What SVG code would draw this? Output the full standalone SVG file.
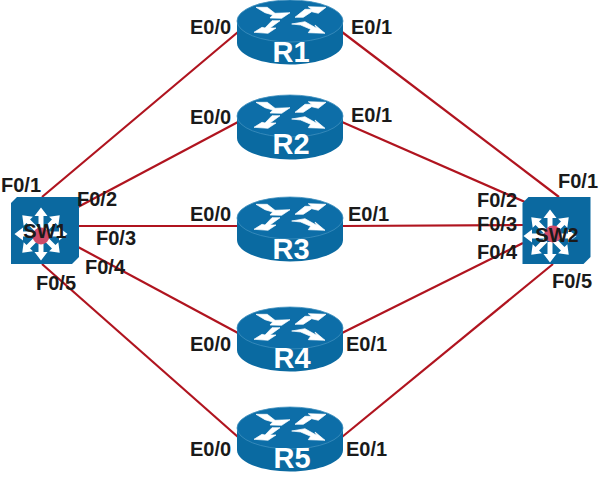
<svg xmlns="http://www.w3.org/2000/svg" width="600" height="479" viewBox="0 0 600 479">
<style>
.link{stroke:#b0141f;stroke-width:2.200;fill:none}
.port{font:bold 20px "Liberation Sans",Arial,sans-serif;fill:#1a1a1a}
.rname{font:bold 29px "Liberation Sans",Arial,sans-serif;fill:#fff;text-anchor:middle}
.swname{font:bold 20px "Liberation Sans",Arial,sans-serif;fill:#1a1a1a;text-anchor:middle}
.wall{fill:#0a6aa1}
.top{fill:#0d6ea8;stroke:#3f8fbe;stroke-width:.8}
.arr{fill:#fff}
.rarr{fill:#fff;stroke:#fff;stroke-width:.7;stroke-linejoin:round}
.sbody{fill:#0b69a0}
</style>
<defs>
<!-- Router cylinder, origin at the centre of the top face -->
<g id="router">
<path class="wall" d="M-53 0V22C-53 34 -29 43.500 0 43.500S53 34 53 22V0Z"/>
<ellipse class="top" cx="0" cy="0" rx="53" ry="21"/>
<path class="rarr" d="M-34 -13.700L-22.700 -13.700L-15 -7.700L0 -8.300L-8.300 -2.700L-20 -3L-17.300 -6L-25 -8.300Z"/>
<path class="rarr" d="M5 -3.700L13.300 -3.700L21.700 -9.300L28.300 -7.700L36 -13.700L18.300 -14.300L21.700 -11.700L15 -11.700Z"/>
<path class="rarr" d="M-36 11.300L-28 6.300L-25 7L-18 -.3L-10 -.3L-20 7L-14 7L-22 12.300Z"/>
<path class="rarr" d="M1.700 3L15 .7L26.700 7.300L25 4L35 12.300L18.300 11.700L20.700 8.300L10.700 4Z"/>
</g>
<!-- Switch face, origin at its centre -->
<path id="sface" class="sbody" d="M-28 -33.500H34V26.500L27 33.500H-34V-27.500Z"/>
<!-- Eight-way arrows, origin at the hub -->
<g id="spokes" class="arr">
<path id="spoke" d="M-2.500 -6V-18H-6.500L0 -26.500L6.500 -18H2.500V-6Z"/>
<use href="#spoke" transform="rotate(45)"/>
<use href="#spoke" transform="rotate(90)"/>
<use href="#spoke" transform="rotate(135)"/>
<use href="#spoke" transform="rotate(180)"/>
<use href="#spoke" transform="rotate(225)"/>
<use href="#spoke" transform="rotate(270)"/>
<use href="#spoke" transform="rotate(315)"/>
</g>
</defs>
<rect width="600" height="479" fill="#fff"/>
<g id="connectors">
<path class="link" d="M42 197L238 32"/>
<path class="link" d="M78 207L238 122"/>
<path class="link" d="M78 226L238 226"/>
<path class="link" d="M78 247L238 333"/>
<path class="link" d="M42 264L238 437"/>
<path class="link" d="M342 32L559 197"/>
<path class="link" d="M342 122L525 202"/>
<path class="link" d="M342 226L523 225"/>
<path class="link" d="M342 333L523 243"/>
<path class="link" d="M342 437L553 264"/>
</g>
<g id="R1"><use href="#router" x="290" y="21"/><text class="rname" x="291" y="62">R1</text>
<text class="port" x="190" y="34">E0/0</text><text class="port" x="351" y="34">E0/1</text></g>
<g id="R2"><use href="#router" x="290" y="116"/><text class="rname" x="291" y="154">R2</text>
<text class="port" x="190" y="124">E0/0</text><text class="port" x="351" y="122">E0/1</text></g>
<g id="R3"><use href="#router" x="290" y="218"/><text class="rname" x="291" y="259">R3</text>
<text class="port" x="190" y="221">E0/0</text><text class="port" x="348" y="221">E0/1</text></g>
<g id="R4"><use href="#router" x="290" y="328"/><text class="rname" x="292" y="368">R4</text>
<text class="port" x="190" y="351">E0/0</text><text class="port" x="346" y="351">E0/1</text></g>
<g id="R5"><use href="#router" x="290" y="428"/><text class="rname" x="292" y="468">R5</text>
<text class="port" x="190" y="456">E0/0</text><text class="port" x="346" y="456">E0/1</text></g>
<g id="SW1"><use href="#sface" x="45" y="230.500"/><use href="#spokes" x="41" y="234"/><circle cx="41" cy="236" r="8.500" fill="#cf4a68"/><text class="swname" x="45" y="238">SW1</text>
<text class="port" x="1" y="192">F0/1</text><text class="port" x="77" y="206">F0/2</text><text class="port" x="96" y="245">F0/3</text><text class="port" x="85" y="274">F0/4</text><text class="port" x="36" y="290">F0/5</text></g>
<g id="SW2"><use href="#sface" x="556.500" y="230.500"/><use href="#spokes" x="550" y="236"/><circle cx="553" cy="234" r="8.500" fill="#cf4a68"/><text class="swname" x="557" y="242">SW2</text>
<text class="port" x="558" y="188">F0/1</text><text class="port" x="477" y="207">F0/2</text><text class="port" x="477" y="231">F0/3</text><text class="port" x="477" y="259">F0/4</text><text class="port" x="552" y="288">F0/5</text></g>
</svg>
